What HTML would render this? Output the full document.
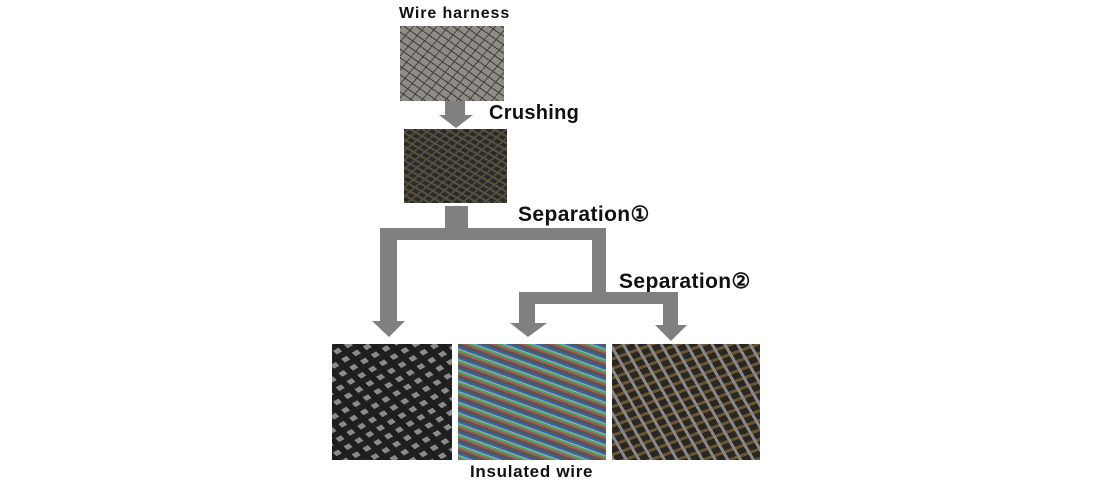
<!DOCTYPE html>
<html><head><style>
body{margin:0;width:1096px;height:491px;background:#fff;position:relative;overflow:hidden;font-family:"Liberation Sans",sans-serif;font-weight:bold;color:#111}
.p{position:absolute}
.t{position:absolute;white-space:nowrap}
</style></head><body>
<div class="t" style="left:399px;top:5px;font-size:16px;letter-spacing:0.9px">Wire harness</div>
<div class="p" style="left:400px;top:26px;width:104px;height:75px;background:repeating-linear-gradient(35deg,#3a3a3a 0 1px,transparent 1px 7px),repeating-linear-gradient(-50deg,#444 0 1px,transparent 1px 9px),#8f8c86"></div>
<div class="p" style="left:404px;top:129px;width:103px;height:74px;background:repeating-linear-gradient(30deg,#5a5238 0 2px,transparent 2px 6px),repeating-linear-gradient(-40deg,#4a4a55 0 2px,transparent 2px 7px),#2b2a24"></div>
<div class="t" style="left:489px;top:102px;font-size:20px;letter-spacing:0.3px">Crushing</div>
<div class="t" style="left:518px;top:202px;font-size:21px;letter-spacing:0.4px">Separation①</div>
<div class="t" style="left:619px;top:269px;font-size:21px;letter-spacing:0.4px">Separation②</div>
<svg class="p" style="left:0;top:0" width="1096" height="491">
<g fill="#808080">
<polygon points="445,101 465,101 465,115 473,115 456,128 439,115 445,115"/>
<rect x="445" y="206" width="23" height="24"/>
<rect x="380" y="228" width="226" height="12"/>
<polygon points="380,228 397,228 397,321 405,321 389,337 372,321 380,321"/>
<rect x="592" y="228" width="14" height="70"/>
<rect x="519" y="292" width="159" height="12"/>
<polygon points="519,292 535,292 535,323 547,323 528,337 510,323 519,323"/>
<polygon points="663,292 678,292 678,325 687,325 671,341 655,325 663,325"/>
</g></svg>
<div class="p" style="left:332px;top:344px;width:120px;height:116px;background:repeating-linear-gradient(45deg,#1e1e1e 0 6px,transparent 6px 12px),repeating-linear-gradient(-30deg,#222 0 6px,transparent 6px 11px),#8a8a8a"></div>
<div class="p" style="left:458px;top:344px;width:148px;height:116px;background:repeating-linear-gradient(20deg,#a55 0 2px,#4a6 2px 4px,#aaa 4px 5px,#36a 5px 7px,#555 7px 10px),#777"></div>
<div class="p" style="left:612px;top:344px;width:148px;height:116px;background:repeating-linear-gradient(60deg,#888 0 3px,transparent 3px 11px),repeating-linear-gradient(-20deg,#6a5530 0 3px,transparent 3px 9px),#2a2622"></div>
<div class="t" style="left:470px;top:462px;font-size:17px;letter-spacing:0.7px">Insulated wire</div>
</body></html>
